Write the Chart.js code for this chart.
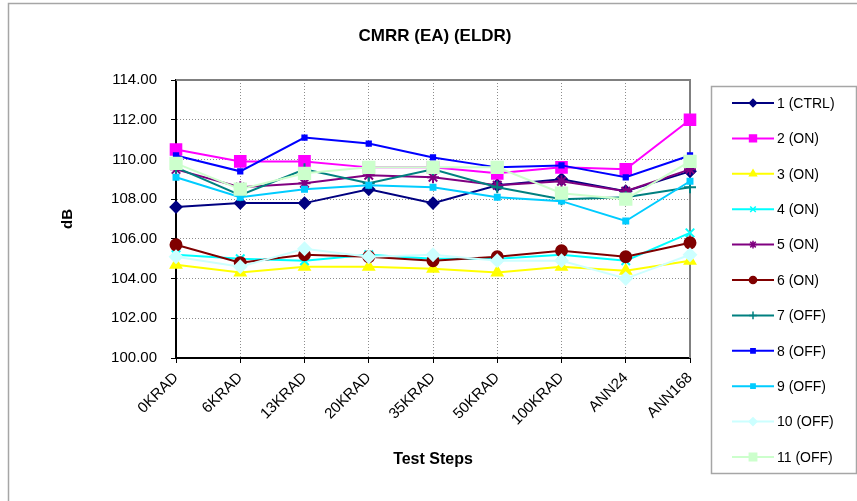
<!DOCTYPE html>
<html>
<head>
<meta charset="utf-8">
<script src="https://cdn.jsdelivr.net/npm/chart.js@4/dist/chart.umd.min.js"></script>
<style>
html, body { margin: 0; background: #fff; }
#wrap { width: 857px; height: 501px; }
</style>
</head>
<body>
<div id="wrap"><canvas id="chart" width="857" height="501"></canvas></div>
<script>
// test steps on the x axis
const steps = ['0KRAD', '6KRAD', '13KRAD', '20KRAD', '35KRAD', '50KRAD', '100KRAD', 'ANN24', 'ANN168']

// CMRR values (dB) per device
const dev1 = [107.6, 107.8, 107.8, 108.5, 107.8, 108.7, 109.0, 108.4, 109.4]
const dev2 = [110.5, 109.9, 109.9, 109.6, 109.6, 109.3, 109.6, 109.5, 112.0]
const dev3 = [104.7, 104.3, 104.6, 104.6, 104.5, 104.3, 104.6, 104.4, 104.9]
const dev4 = [105.2, 105.0, 104.9, 105.2, 105.0, 105.0, 105.2, 104.9, 106.3]
const dev5 = [109.5, 108.6, 108.8, 109.2, 109.1, 108.7, 108.9, 108.4, 109.5]
const dev6 = [105.7, 104.8, 105.2, 105.1, 104.9, 105.1, 105.4, 105.1, 105.8]
const dev7 = [109.6, 108.2, 109.5, 108.8, 109.5, 108.6, 108.0, 108.1, 108.6]
const dev8 = [110.2, 109.4, 111.1, 110.8, 110.1, 109.6, 109.7, 109.1, 110.2]
const dev9 = [109.1, 108.1, 108.5, 108.7, 108.6, 108.1, 107.9, 106.9, 108.9]
const dev10 = [105.1, 104.6, 105.5, 105.1, 105.2, 104.9, 104.9, 104.0, 105.2]
const dev11 = [109.8, 108.5, 109.3, 109.6, 109.6, 109.6, 108.3, 108.0, 109.9]

const names = ['1 (CTRL)', '2 (ON)', '3 (ON)', '4 (ON)', '5 (ON)', '6 (ON)', '7 (OFF)', '8 (OFF)', '9 (OFF)', '10 (OFF)', '11 (OFF)']
const values = [dev1, dev2, dev3, dev4, dev5, dev6, dev7, dev8, dev9, dev10, dev11]

const yMin = 100
const yMax = 114
const yStep = 2

// look of each series: colour, marker, marker radius
const looks = [
    {color: '#000080', marker: 'rectRot', r: 5.5},
    {color: '#FF00FF', marker: 'rect', r: 7.5},
    {color: '#FFFF00', marker: 'triangle', r: 6},
    {color: '#00FFFF', marker: 'crossRot', r: 6},
    {color: '#800080', marker: 'star', r: 6},
    {color: '#800000', marker: 'circle', r: 5.5},
    {color: '#008080', marker: 'cross', r: 6},
    {color: '#0000FF', marker: 'rect', r: 3},
    {color: '#00CCFF', marker: 'rect', r: 3.5},
    {color: '#CCFFFF', marker: 'rectRot', r: 6},
    {color: '#CCFFCC', marker: 'rect', r: 8}
]

const FONT = 'Arial, "Liberation Sans", sans-serif'

const datasets = values.map((v, i) => ({
    label: names[i],
    data: v,
    borderColor: looks[i].color,
    backgroundColor: looks[i].color,
    pointBackgroundColor: looks[i].color,
    pointBorderColor: looks[i].color,
    pointStyle: looks[i].marker,
    pointRadius: looks[i].r,
    pointBorderWidth: 2,
    borderWidth: 2,
    tension: 0,
    order: -i
}))

const frame = {
    id: 'frame',
    beforeDraw(chart) {
        const ctx = chart.ctx
        ctx.save()
        ctx.strokeStyle = '#a6a6a6'
        ctx.lineWidth = 1.5
        ctx.beginPath()
        ctx.moveTo(8.5, 520)
        ctx.lineTo(8.5, 3.5)
        ctx.lineTo(870, 3.5)
        ctx.stroke()
        ctx.restore()
    },
    beforeDatasetsDraw(chart) {
        const a = chart.chartArea
        const ctx = chart.ctx
        ctx.save()
        ctx.strokeStyle = '#808080'
        ctx.lineWidth = 2
        ctx.beginPath()
        ctx.moveTo(a.left, a.top)
        ctx.lineTo(a.right, a.top)
        ctx.lineTo(a.right, a.bottom)
        ctx.stroke()
        ctx.restore()
    },
    afterDraw(chart) {
        const ctx = chart.ctx
        ctx.save()
        // title
        ctx.fillStyle = '#000'
        ctx.font = 'bold 17px ' + FONT
        ctx.textAlign = 'center'
        ctx.textBaseline = 'middle'
        ctx.fillText('CMRR (EA) (ELDR)', 435, 36)

        // legend box
        ctx.strokeStyle = '#a6a6a6'
        ctx.lineWidth = 1.5
        ctx.strokeRect(711.5, 86.5, 145, 387)
        ctx.font = '14px ' + FONT
        ctx.textAlign = 'left'
        chart.data.datasets.forEach((ds, i) => {
            const y = 103 + i * 35.4
            ctx.strokeStyle = ds.borderColor
            ctx.lineWidth = 2
            ctx.beginPath()
            ctx.moveTo(732, y)
            ctx.lineTo(774, y)
            ctx.stroke()
            ctx.fillStyle = ds.borderColor
            ctx.lineWidth = 1.5
            Chart.helpers.drawPoint(ctx, {pointStyle: ds.pointStyle, radius: Math.max(3, ds.pointRadius * 0.65), rotation: 0, borderWidth: 1.5}, 753, y)
            ctx.fillStyle = '#000'
            ctx.fillText(ds.label, 777, y + 1)
        })
        ctx.restore()
    }
}

new Chart(document.getElementById('chart'), {
    type: 'line',
    data: {labels: steps, datasets: datasets},
    options: {
        responsive: false,
        animation: false,
        layout: {padding: {top: 80, left: 55, right: 167, bottom: 28}},
        plugins: {legend: {display: false}, title: {display: false}, tooltip: {enabled: false}},
        scales: {
            x: {
                offset: false,
                afterFit: s => { s.height = 115 },
                grid: {color: '#8c8c8c', lineWidth: 1, tickLength: 5, tickColor: '#000', tickBorderDash: [], drawTicks: true},
                border: {color: '#000', width: 2, dash: [1, 2]},
                ticks: {color: '#000', font: {family: FONT, size: 15}, minRotation: 45, maxRotation: 45, padding: 6, autoSkip: false},
                title: {display: true, text: 'Test Steps', color: '#000', font: {family: FONT, size: 16, weight: 'bold'}, padding: 4}
            },
            y: {
                min: yMin,
                max: yMax,
                afterFit: s => { s.width = 121 },
                grid: {color: '#8c8c8c', lineWidth: 1, tickLength: 5, tickColor: '#000', tickBorderDash: []},
                border: {color: '#000', width: 2, dash: [1, 2]},
                ticks: {stepSize: yStep, color: '#000', font: {family: FONT, size: 15}, padding: 14, callback: v => v.toFixed(2)},
                title: {display: true, text: 'dB', color: '#000', font: {family: FONT, size: 15, weight: 'bold'}, padding: 4}
            }
        }
    },
    plugins: [frame]
})
</script>
</body>
</html>
